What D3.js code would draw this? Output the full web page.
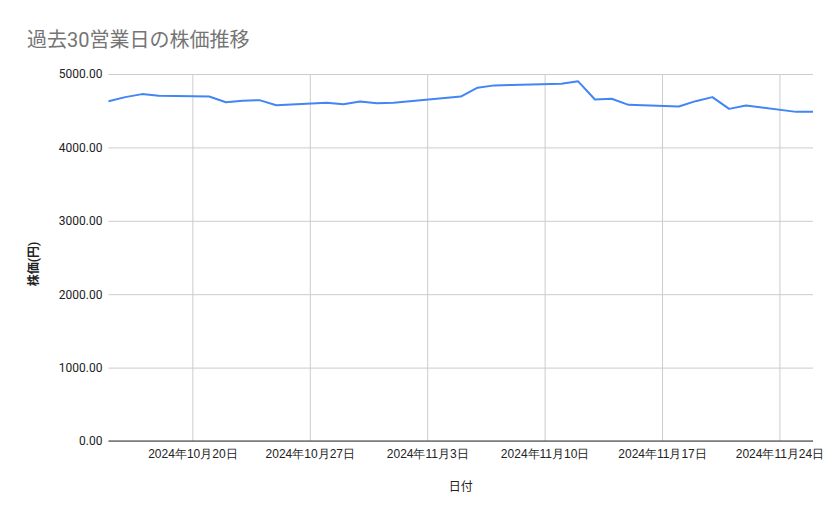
<!DOCTYPE html>
<html><head><meta charset="utf-8">
<script src="https://cdn.jsdelivr.net/npm/d3@7"></script>
<style>
html,body{margin:0;padding:0;background:#fff;}
svg{display:block;font-family:Roboto,"Noto Sans CJK JP",Arial,sans-serif;}
</style></head>
<body>
<svg id="c" width="839" height="519"></svg>
<script>
const dates = ["2024-10-15","2024-10-16","2024-10-17","2024-10-18","2024-10-21","2024-10-22","2024-10-23","2024-10-24","2024-10-25","2024-10-28","2024-10-29","2024-10-30","2024-10-31","2024-11-01","2024-11-05","2024-11-06","2024-11-07","2024-11-08","2024-11-11","2024-11-12","2024-11-13","2024-11-14","2024-11-15","2024-11-18","2024-11-19","2024-11-20","2024-11-21","2024-11-22","2024-11-25","2024-11-26"];
const prices = [4630,4685,4726,4703,4694,4616,4635,4644,4575,4607,4589,4626,4603,4607,4692,4813,4845,4851,4868,4900,4653,4662,4580,4557,4630,4685,4525,4571,4484,4486];
const xTicks = ["2024-10-20","2024-10-27","2024-11-03","2024-11-10","2024-11-17","2024-11-24"];
const yTicks = [0,1000,2000,3000,4000,5000];
const title = "過去30営業日の株価推移";
const xTitle = "日付";
const yTitle = "株価(円)";

const parse = d3.timeParse("%Y-%m-%d");
const data = dates.map((d,i)=>({date:parse(d), v:prices[i]}));
const svg = d3.select("#c");
const L=108.5, R=813, T=74, B=441;
const x = d3.scaleTime().domain([parse("2024-10-15"), parse("2024-11-26")]).range([L,R]);
const y = d3.scaleLinear().domain([0,5000]).range([B,T]);

svg.append("text").attr("x",27).attr("y",47).attr("font-size",20).attr("fill","#757575").text(title);

const yAxis = d3.axisLeft(y).tickValues(yTicks).tickSize(-(R-L)).tickPadding(6).tickFormat(d=>d3.format(".2f")(d));
const gy = svg.append("g").attr("transform",`translate(${L},0)`).call(yAxis);
gy.select(".domain").remove();
gy.selectAll(".tick line").attr("stroke","#cccccc");
gy.selectAll(".tick text").attr("font-size",12).attr("fill","#222").attr("font-family","Roboto,Arial,sans-serif");

const xAxis = d3.axisBottom(x).tickValues(xTicks.map(parse)).tickSize(-(B-T)).tickPadding(8)
  .tickFormat(d=>`${d.getFullYear()}年${d.getMonth()+1}月${d.getDate()}日`);
const gx = svg.append("g").attr("transform",`translate(0,${B})`).call(xAxis);
gx.select(".domain").remove();
gx.selectAll(".tick line").attr("stroke","#cccccc");
gx.selectAll(".tick text").attr("font-size",12).attr("fill","#222");

svg.append("line").attr("x1",L).attr("x2",R).attr("y1",y(0)).attr("y2",y(0)).attr("stroke","#333").attr("stroke-width",1);

svg.append("path").datum(data).attr("fill","none").attr("stroke","#4285f4").attr("stroke-width",2)
  .attr("stroke-linejoin","round")
  .attr("d", d3.line().x(d=>x(d.date)).y(d=>y(d.v)));

svg.append("text").attr("x",(L+R)/2).attr("y",491).attr("text-anchor","middle").attr("font-size",12).attr("fill","#222").text(xTitle);
svg.append("text").attr("transform",`translate(38,264) rotate(-90)`).attr("text-anchor","middle").attr("font-size",12).attr("font-weight","bold").attr("fill","#222").text(yTitle);
</script>
</body></html>
